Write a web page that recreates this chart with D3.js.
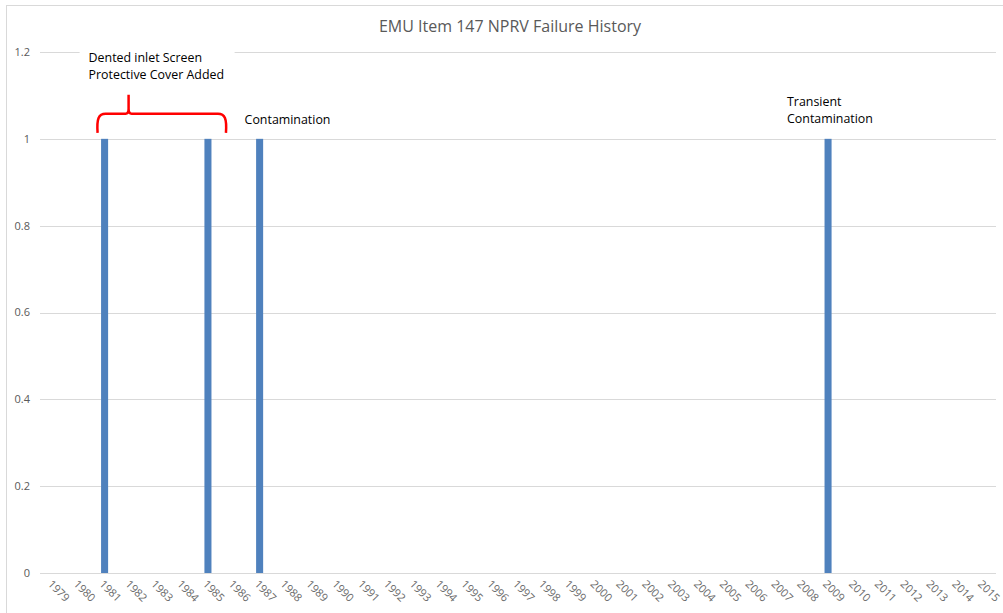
<!DOCTYPE html>
<html>
<head>
<meta charset="utf-8">
<script src="https://cdn.jsdelivr.net/npm/d3@7"></script>
<style>
  body { margin: 0; background: #fff; }
  svg { display: block; font-family: "Open Sans", "Noto Sans", sans-serif; }
</style>
</head>
<body>
<svg id="chart" width="1003" height="613"></svg>
<script>
// years on the category axis
const years = d3.range(1979, 2016).map(String);
// failures per year (only the four years with a failure)
const failureYears = ["1981", "1985", "1987", "2009"];
const failureCounts = [1, 1, 1, 1];
const yTicks = [0, 0.2, 0.4, 0.6, 0.8, 1, 1.2];

const svg = d3.select("#chart"),
    margin = {top: 52, right: 7, bottom: 40, left: 40},
    width = +svg.attr("width") - margin.left - margin.right,
    height = +svg.attr("height") - margin.top - margin.bottom;

// outer chart border
svg.append("rect")
    .attr("x", 6.5).attr("y", 5.5)
    .attr("width", 1010).attr("height", 620)
    .attr("fill", "none").attr("stroke", "#d9d9d9");

svg.append("text")
    .attr("x", 510).attr("y", 32)
    .attr("text-anchor", "middle")
    .attr("font-size", 16)
    .attr("fill", "#595959")
    .text("EMU Item 147 NPRV Failure History");

const g = svg.append("g").attr("transform", "translate(" + margin.left + "," + margin.top + ")");

const x = d3.scaleBand().domain(years).range([0, width]);
const y = d3.scaleLinear().domain([0, 1.2]).range([height, 0]);

// gridlines
g.append("g")
    .selectAll("line")
    .data(yTicks)
    .enter().append("line")
    .attr("x1", 0).attr("x2", width)
    .attr("y1", d => Math.round(y(d)) + 0.5)
    .attr("y2", d => Math.round(y(d)) + 0.5)
    .attr("stroke", "#d9d9d9");

// y labels
g.append("g")
    .selectAll("text")
    .data(yTicks)
    .enter().append("text")
    .attr("x", -10)
    .attr("y", d => y(d))
    .attr("dy", "0.35em")
    .attr("text-anchor", "end")
    .attr("font-size", 11)
    .attr("fill", "#595959")
    .text(d => d);

// x labels rotated
g.append("g")
    .selectAll("text")
    .data(years)
    .enter().append("text")
    .attr("transform", d => "translate(" + (x(d) + x.bandwidth() / 2 - 3) + "," + (height + 9) + ") rotate(45)")
    .attr("font-size", 11)
    .attr("fill", "#6a6a6a")
    .attr("dy", "0.35em")
    .text(d => d);

// bars
const barW = x.bandwidth() / 3.67;
g.append("g")
    .selectAll("rect")
    .data(failureYears.map((yr, i) => ({year: yr, value: failureCounts[i]})))
    .enter().append("rect")
    .attr("x", d => x(d.year) + (x.bandwidth() - barW) / 2)
    .attr("y", d => y(d.value))
    .attr("width", barW)
    .attr("height", d => height - y(d.value))
    .attr("fill", "#4f81bd");

// annotation box over the 1.2 gridline
const cx = yr => x(yr) + x.bandwidth() / 2;
g.append("rect")
    .attr("x", cx("1981") - 25).attr("y", y(1.2) - 4)
    .attr("width", 155).attr("height", 36)
    .attr("fill", "#fff");

const note = g.append("text")
    .attr("font-size", 12.4)
    .attr("fill", "#000");
note.append("tspan").attr("x", cx("1981") - 16).attr("y", y(1.2) + 10).text("Dented inlet Screen");
note.append("tspan").attr("x", cx("1981") - 16).attr("y", y(1.2) + 27).text("Protective Cover Added");

// red brace spanning 1981 - 1985
const bx0 = cx("1981") - 7, bx1 = cx("1985") + 18, by = y(1) - 6, peak = cx("1981") + 24;
g.append("path")
    .attr("d", "M" + bx0 + "," + by +
        " C" + (bx0 - 1) + "," + (by - 14) + " " + (bx0 + 1) + "," + (by - 19) + " " + (bx0 + 8) + "," + (by - 19) +
        " L" + (peak - 3) + "," + (by - 19) +
        " Q" + peak + "," + (by - 19) + " " + peak + "," + (by - 24) +
        " L" + peak + "," + (by - 38) +
        " L" + peak + "," + (by - 24) +
        " Q" + peak + "," + (by - 19) + " " + (peak + 3) + "," + (by - 19) +
        " L" + (bx1 - 8) + "," + (by - 19) +
        " C" + (bx1 - 1) + "," + (by - 19) + " " + (bx1 + 1) + "," + (by - 14) + " " + bx1 + "," + by)
    .attr("fill", "none")
    .attr("stroke", "#ff0000")
    .attr("stroke-width", 2.5);

g.append("text")
    .attr("x", cx("1987") - 15).attr("y", y(1) - 15)
    .attr("font-size", 12.4).attr("fill", "#000")
    .text("Contamination");

const t2 = g.append("text").attr("font-size", 12.4).attr("fill", "#000");
t2.append("tspan").attr("x", cx("2009") - 41).attr("y", y(1) - 33).text("Transient");
t2.append("tspan").attr("x", cx("2009") - 41).attr("y", y(1) - 16).text("Contamination");
</script>
</body>
</html>
